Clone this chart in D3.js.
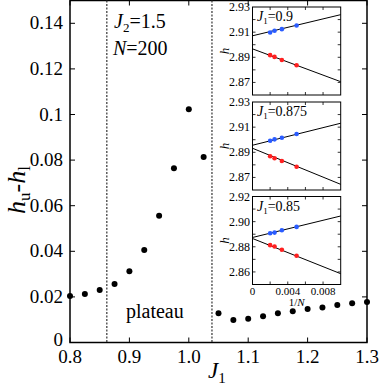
<!DOCTYPE html>
<html>
<head>
<meta charset="utf-8">
<script src="https://cdn.jsdelivr.net/npm/d3@7"></script>
<style>
  body { margin: 0; background: #fff; }
  svg { display: block; }
</style>
</head>
<body>
<svg width="382" height="388"></svg>
<script>
// main panel: gap h_u - h_l against J1 (N = 200)
const j1Values = [0.8, 0.825, 0.85, 0.875, 0.9, 0.925, 0.95, 0.975, 1.0, 1.025,
  1.05, 1.075, 1.1, 1.125, 1.15, 1.175, 1.2, 1.225, 1.25, 1.275, 1.3];
const gapValues = [0.0204, 0.0213, 0.023, 0.0257, 0.0312, 0.0406, 0.0556, 0.0764, 0.1023, 0.0814,
  0.0128, 0.0099, 0.0104, 0.0115, 0.0128, 0.0137, 0.0147, 0.0154, 0.0164, 0.0172, 0.0178];
const plateauEdges = [0.862, 1.039];
const xTicks = [0.8, 0.9, 1.0, 1.1, 1.2, 1.3];
const xTickLabels = ["0.8", "0.9", "1.0", "1.1", "1.2", "1.3"];
const yTicks = [0, 0.02, 0.04, 0.06, 0.08, 0.1, 0.12, 0.14];
const yTickLabels = ["0", "0.02", "0.04", "0.06", "0.08", "0.1", "0.12", "0.14"];

// insets: h against 1/N for three J1 values
const invN = [0.002, 0.0025, 0.00333, 0.005];
const insetJ1 = ["0.9", "0.875", "0.85"];
const insetDomains = [[2.86, 2.93], [2.86, 2.93], [2.85, 2.92]];
const insetTickLabels = [
  [2.87, 2.89, 2.91, 2.93],
  [2.87, 2.89, 2.91, 2.93],
  [2.86, 2.88, 2.90, 2.92]
];
const upperPoints = [
  [2.9097, 2.9111, 2.9124, 2.9153],
  [2.8992, 2.9003, 2.9016, 2.9045],
  [2.8908, 2.8913, 2.8932, 2.8958]
];
const lowerPoints = [
  [2.8917, 2.8903, 2.8879, 2.8837],
  [2.8868, 2.8852, 2.8831, 2.8785],
  [2.8813, 2.8802, 2.8776, 2.8729]
];
// fit lines, value at 1/N = 0 and at 1/N = 0.01
const upperFits = [[2.9071, 2.9239], [2.8956, 2.9131], [2.8874, 2.9045]];
const lowerFits = [[2.8967, 2.8706], [2.8932, 2.8645], [2.8866, 2.8586]];
const fitEnds = [0, 0.01];
const invNTicks = [0, 0.004, 0.008];
const invNTickLabels = ["0", "0.004", "0.008"];

const serif = "Liberation Serif";
const svg = d3.select("svg");

const x = d3.scaleLinear().domain([0.8, 1.3]).range([70, 367]);
const y = d3.scaleLinear().domain([0, 0.15]).range([342.5, 0.5]);

const main = svg.append("g");

// frame
main.append("rect")
  .attr("x", x(0.8)).attr("y", y(0.15))
  .attr("width", x(1.3) - x(0.8)).attr("height", y(0) - y(0.15))
  .attr("fill", "none").attr("stroke", "#000").attr("stroke-width", 1.5);

// inward ticks on all four sides
const tickLen = 5;
main.selectAll("line.xt")
  .data(xTicks)
  .enter()
  .append("line")
  .attr("x1", d => x(d)).attr("x2", d => x(d))
  .attr("y1", y(0)).attr("y2", y(0) - tickLen)
  .attr("stroke", "#000");
main.selectAll("line.xtt")
  .data(xTicks)
  .enter()
  .append("line")
  .attr("x1", d => x(d)).attr("x2", d => x(d))
  .attr("y1", y(0.15)).attr("y2", y(0.15) + tickLen)
  .attr("stroke", "#000");
main.selectAll("line.yt")
  .data(yTicks)
  .enter()
  .append("line")
  .attr("x1", x(0.8)).attr("x2", x(0.8) + tickLen)
  .attr("y1", d => y(d)).attr("y2", d => y(d))
  .attr("stroke", "#000");
main.selectAll("line.ytr")
  .data(yTicks)
  .enter()
  .append("line")
  .attr("x1", x(1.3)).attr("x2", x(1.3) - tickLen)
  .attr("y1", d => y(d)).attr("y2", d => y(d))
  .attr("stroke", "#000");

main.selectAll("text.xl")
  .data(xTicks)
  .enter()
  .append("text")
  .attr("x", d => x(d)).attr("y", 363)
  .attr("text-anchor", "middle")
  .attr("font-size", 19)
  .text((d, i) => xTickLabels[i]);

main.selectAll("text.yl")
  .data(yTicks)
  .enter()
  .append("text")
  .attr("x", 63).attr("y", d => y(d) + (d === 0 ? 3 : 6))
  .attr("text-anchor", "end")
  .attr("font-size", 19)
  .text((d, i) => yTickLabels[i]);

// dotted plateau boundaries
main.selectAll("line.edge")
  .data(plateauEdges)
  .enter()
  .append("line")
  .attr("x1", d => x(d)).attr("x2", d => x(d))
  .attr("y1", y(0.15)).attr("y2", y(0))
  .attr("stroke", "#333").attr("stroke-width", 1.2)
  .attr("stroke-dasharray", "2,1.5");

main.selectAll("circle.pt")
  .data(j1Values)
  .enter()
  .append("circle")
  .attr("cx", d => x(d))
  .attr("cy", (d, i) => y(gapValues[i]))
  .attr("r", 3)
  .attr("fill", "#000");

// annotations
const j2 = main.append("text").attr("x", 114).attr("y", 28).attr("font-size", 20);
j2.append("tspan").attr("font-style", "italic").text("J");
j2.append("tspan").attr("font-size", 13).attr("dy", 4).text("2");
j2.append("tspan").attr("dy", -4).text("=1.5");
const nl = main.append("text").attr("x", 113).attr("y", 55).attr("font-size", 20);
nl.append("tspan").attr("font-style", "italic").text("N");
nl.append("tspan").text("=200");
main.append("text").attr("x", 126).attr("y", 318).attr("font-size", 20).text("plateau");

// axis titles
const xt = main.append("text").attr("x", 208).attr("y", 378).attr("font-size", 23);
xt.append("tspan").attr("font-style", "italic").text("J");
xt.append("tspan").attr("font-size", 15).attr("dy", 5).text("1");

const yt = main.append("text")
  .attr("transform", "translate(25, 190) rotate(-90)")
  .attr("text-anchor", "middle")
  .attr("font-size", 26);
yt.append("tspan").attr("font-style", "italic").text("h");
yt.append("tspan").attr("font-size", 17).attr("dy", 5).text("u");
yt.append("tspan").attr("dy", -5).text("-");
yt.append("tspan").attr("font-style", "italic").text("h");
yt.append("tspan").attr("font-size", 17).attr("dy", 5).text("l");

// insets
const ix = d3.scaleLinear().domain([0, 0.01]).range([252.5, 340.7]);
const insetRanges = [[95, 7], [190, 102], [284.5, 196.5]];

insetDomains.forEach(function(dom, k) {
  const iy = d3.scaleLinear().domain(dom).range(insetRanges[k]);
  const g = svg.append("g");

  g.append("rect")
    .attr("x", ix(0)).attr("y", iy(dom[1]))
    .attr("width", ix(0.01) - ix(0)).attr("height", iy(dom[0]) - iy(dom[1]))
    .attr("fill", "#fff").attr("stroke", "#000").attr("stroke-width", 1);

  const yMinor = d3.range(dom[0] + 0.01, dom[1] - 0.001, 0.01);
  g.selectAll("line.a")
    .data(yMinor)
    .enter()
    .append("line")
    .attr("x1", ix(0)).attr("x2", ix(0) + 3)
    .attr("y1", d => iy(d)).attr("y2", d => iy(d))
    .attr("stroke", "#000").attr("stroke-width", 0.8);
  g.selectAll("line.b")
    .data(yMinor)
    .enter()
    .append("line")
    .attr("x1", ix(0.01)).attr("x2", ix(0.01) - 3)
    .attr("y1", d => iy(d)).attr("y2", d => iy(d))
    .attr("stroke", "#000").attr("stroke-width", 0.8);
  const xMinor = [0.002, 0.004, 0.006, 0.008];
  g.selectAll("line.c")
    .data(xMinor)
    .enter()
    .append("line")
    .attr("x1", d => ix(d)).attr("x2", d => ix(d))
    .attr("y1", iy(dom[0])).attr("y2", iy(dom[0]) - 3)
    .attr("stroke", "#000").attr("stroke-width", 0.8);
  g.selectAll("line.d")
    .data(xMinor)
    .enter()
    .append("line")
    .attr("x1", d => ix(d)).attr("x2", d => ix(d))
    .attr("y1", iy(dom[1])).attr("y2", iy(dom[1]) + 3)
    .attr("stroke", "#000").attr("stroke-width", 0.8);

  g.selectAll("text.t")
    .data(insetTickLabels[k])
    .enter()
    .append("text")
    .attr("x", 250).attr("y", d => iy(d) + 4)
    .attr("text-anchor", "end")
    .attr("font-size", 12)
    .text(d => d.toFixed(2));

  g.append("text")
    .attr("transform", `translate(229, ${(insetRanges[k][0] + insetRanges[k][1]) / 2}) rotate(-90)`)
    .attr("text-anchor", "middle")
    .attr("font-size", 13)
    .attr("font-style", "italic")
    .text("h");

  const line = d3.line().x(d => ix(d[0])).y(d => iy(d[1]));
  [upperFits[k], lowerFits[k]].forEach(function(fit) {
    g.append("path")
      .datum(fitEnds.map((e, i) => [e, fit[i]]))
      .attr("d", line)
      .attr("fill", "none").attr("stroke", "#000").attr("stroke-width", 1);
  });

  g.selectAll("circle.u")
    .data(invN)
    .enter()
    .append("circle")
    .attr("cx", d => ix(d))
    .attr("cy", (d, i) => iy(upperPoints[k][i]))
    .attr("r", 2.3)
    .attr("fill", "#2a5cff");
  g.selectAll("circle.l")
    .data(invN)
    .enter()
    .append("circle")
    .attr("cx", d => ix(d))
    .attr("cy", (d, i) => iy(lowerPoints[k][i]))
    .attr("r", 2.3)
    .attr("fill", "#ff2020");

  const lab = g.append("text")
    .attr("x", 257).attr("y", iy(dom[1]) + 14)
    .attr("font-size", 14);
  lab.append("tspan").attr("font-style", "italic").text("J");
  lab.append("tspan").attr("font-size", 9).attr("dy", 3).text("1");
  lab.append("tspan").attr("dy", -3).text("=" + insetJ1[k]);

  if (k === 2) {
    g.selectAll("text.xl")
      .data(invNTicks)
      .enter()
      .append("text")
      .attr("x", d => ix(d)).attr("y", iy(dom[0]) + 10)
      .attr("text-anchor", "middle")
      .attr("font-size", 11)
      .text((d, i) => invNTickLabels[i]);
    const nt = g.append("text")
      .attr("x", ix(0.005)).attr("y", iy(dom[0]) + 21)
      .attr("text-anchor", "middle")
      .attr("font-size", 11);
    nt.append("tspan").text("1/");
    nt.append("tspan").attr("font-style", "italic").text("N");
  }
});

svg.selectAll("text").style("font-family", serif);
</script>
</body>
</html>
